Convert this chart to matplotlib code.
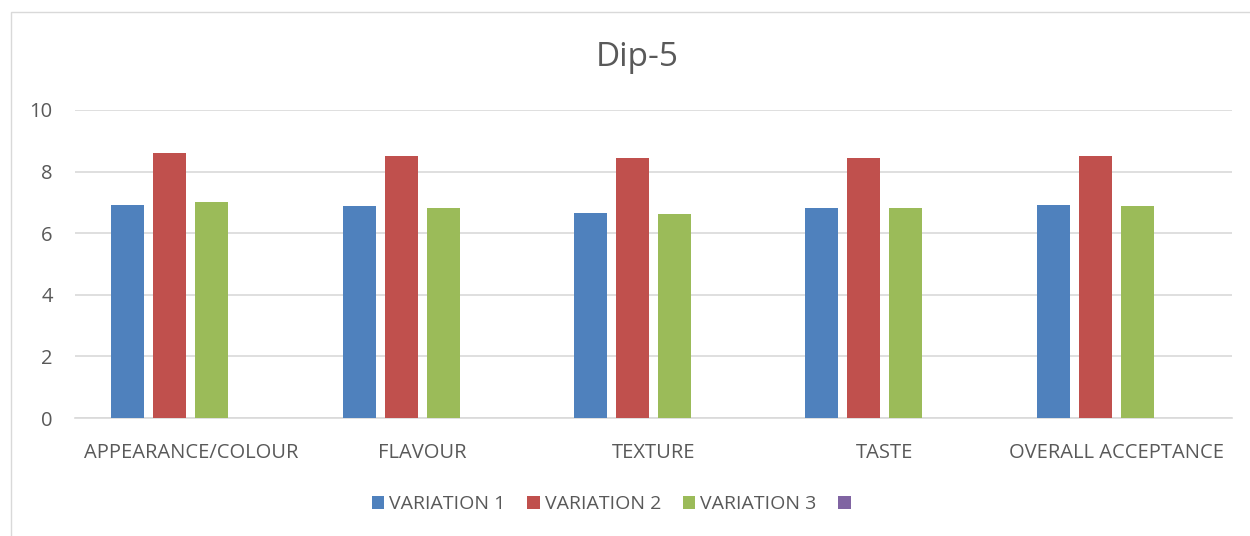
import numpy as np
import matplotlib.pyplot as plt
from matplotlib.patches import Rectangle

categories = ["APPEARANCE/COLOUR", "FLAVOUR", "TEXTURE", "TASTE", "OVERALL ACCEPTANCE"]
variation_1 = [6.91, 6.87, 6.65, 6.81, 6.91]
variation_2 = [8.59, 8.52, 8.43, 8.45, 8.50]
variation_3 = [7.01, 6.81, 6.62, 6.81, 6.88]
series_names = ["VARIATION 1", "VARIATION 2", "VARIATION 3", " "]
colors = ["#4F81BD", "#C0504D", "#9BBB59", "#8064A2"]

plt.rcParams['font.family'] = ['Open Sans', 'DejaVu Sans']
text_col = "#595959"

fig = plt.figure(figsize=(12.5, 5.36), dpi=100)
ax = fig.add_axes([0.06, 0.2201, 0.9256, 0.5747])

# chart area border
fig.patches.append(Rectangle((11 / 1250, -0.01), 1.05, 1 - 12 / 536 + 0.01,
                             transform=fig.transFigure, fill=False,
                             edgecolor="#d9d9d9", linewidth=1))

x = np.arange(len(categories))
pitch = 0.1815
width = 0.143
data = [variation_1, variation_2, variation_3, [np.nan] * 5]
for i, (vals, name, c) in enumerate(zip(data, series_names, colors)):
    ax.bar(x + (i - 1.5) * pitch, vals, width, color=c, label=name, zorder=3)

ax.set_xlim(-0.5, len(categories) - 0.5)
ax.set_ylim(0, 10)
ax.set_yticks([0, 2, 4, 6, 8, 10])
ax.yaxis.grid(True, color="#d9d9d9", linewidth=1.2, zorder=0)
for s in ["left", "right", "top"]:
    ax.spines[s].set_visible(False)
ax.spines["bottom"].set_color("#d9d9d9")
ax.spines["bottom"].set_linewidth(1.2)
ax.tick_params(axis="both", length=0, colors=text_col, labelsize=14.5)
ax.tick_params(axis="y", pad=16)
ax.tick_params(axis="x", pad=18)
ax.set_xticks(x)
ax.set_xticklabels(categories)

fig.text(0.51, 1 - 57 / 536, "Dip-5", ha="center", va="center", fontsize=24, color=text_col)

leg = fig.legend(loc="center", bbox_to_anchor=(0.493, 1 - 504 / 536), ncol=4,
                 frameon=False, fontsize=14, handlelength=0.65, handleheight=0.65,
                 handletextpad=0.25, columnspacing=1.12)
for t in leg.get_texts():
    t.set_color(text_col)

fig.savefig("out.png", dpi=100)
